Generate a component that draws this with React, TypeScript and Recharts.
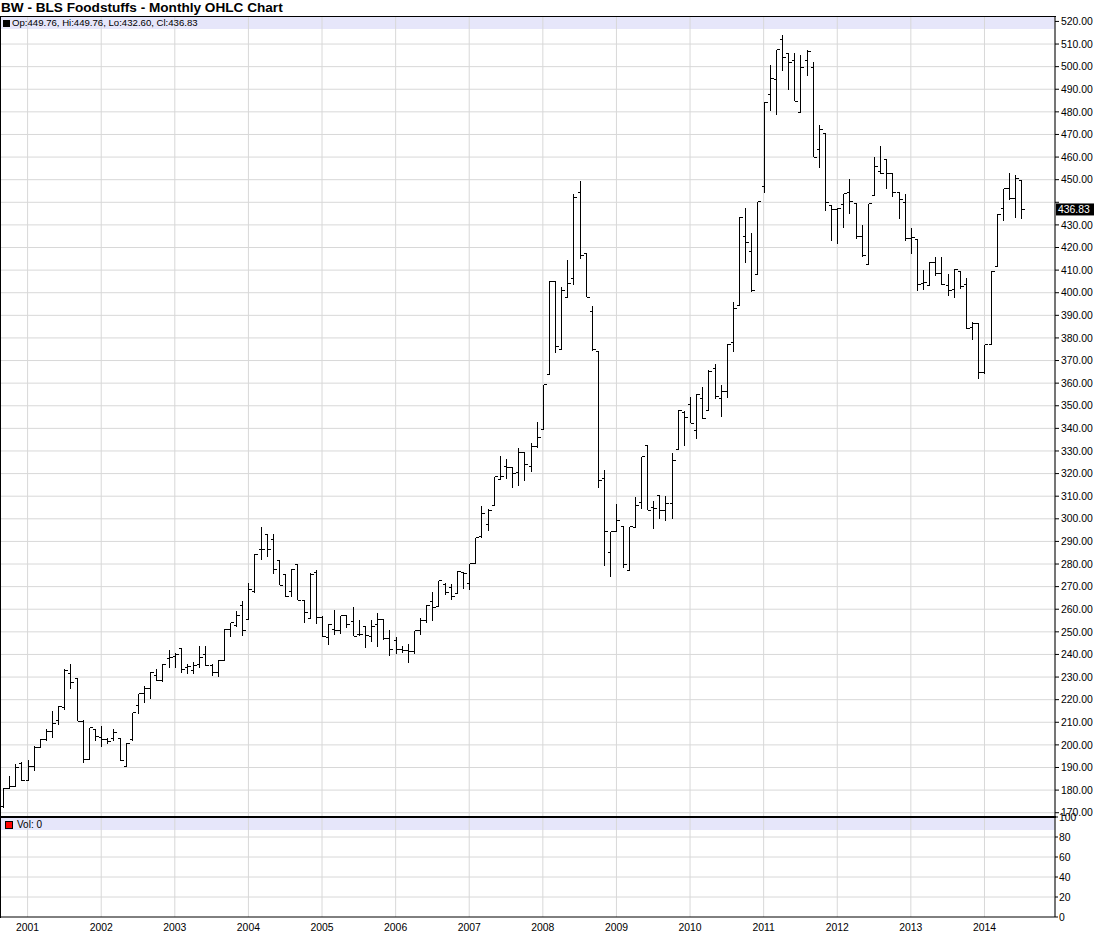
import React from 'react';
import { ComposedChart, Bar, XAxis, YAxis, CartesianGrid, ReferenceLine } from 'recharts';

// Monthly bars from Sep 2000 to Jul 2014, plus empty months to the right edge
const firstYear = 2000;
const firstMonth = 9;
const emptyMonthsAfter = 5;

const openValues = [
  172.8, 180.9, 181.7, 191.7, 184.2, 190.4, 198.7, 202.3, 205.7, 210.8, 216.4, 231.6, 229.2, 210.5, 193.5, 206.8,
  203.1, 202.3, 202.8, 202.8, 190.5, 202.2, 217.2, 222.6, 225.0, 230.8, 228.3, 238.2, 239.3, 242.7, 234.2, 233.0,
  235.6, 240.1, 235.3, 232.0, 237.4, 251.2, 252.6, 261.5, 255.6, 267.7, 286.3, 293.0, 291.0, 281.4, 275.5, 267.7,
  280.0, 263.7, 256.0, 276.3, 256.2, 247.5, 251.2, 250.4, 257.1, 254.6, 248.8, 252.2, 248.0, 253.1, 255.6, 247.2,
  246.0, 242.3, 241.8, 241.5, 250.4, 255.0, 263.6, 261.1, 271.0, 269.5, 266.8, 276.1, 271.4, 280.1, 292.0, 297.3,
  305.9, 317.5, 323.0, 322.7, 320.5, 329.3, 323.0, 331.8, 339.7, 363.7, 405.1, 375.1, 397.7, 406.1, 444.2, 417.2,
  391.8, 373.9, 317.9, 285.3, 294.3, 296.4, 277.2, 296.1, 307.2, 332.3, 305.2, 310.1, 303.8, 306.7, 330.8, 347.0,
  350.6, 339.1, 353.1, 348.0, 366.4, 353.1, 356.1, 378.2, 394.3, 424.8, 418.4, 408.1, 446.9, 487.5, 494.2, 512.2,
  506.0, 502.6, 479.9, 502.6, 499.8, 463.2, 470.6, 438.5, 436.6, 439.0, 444.4, 439.6, 424.8, 412.7, 443.0, 453.6,
  458.9, 452.6, 444.4, 440.0, 423.8, 423.5, 404.1, 403.1, 413.4, 408.3, 403.2, 401.4, 409.4, 403.6, 384.7, 386.5,
  364.5, 377.3, 411.6, 437.4, 446.0, 441.6, 449.76,
];
const highValues = [
  180.9, 186.4, 191.5, 192.5, 193.2, 199.4, 202.6, 207.2, 214.9, 217.1, 233.4, 235.6, 229.2, 210.9, 207.5, 206.8,
  208.3, 203.1, 207.2, 203.1, 200.9, 214.2, 222.6, 226.0, 232.2, 233.4, 235.6, 241.8, 240.8, 243.0, 235.6, 236.8,
  243.8, 243.8, 235.6, 237.4, 251.2, 254.1, 259.3, 263.7, 271.4, 284.4, 296.2, 293.0, 293.2, 281.4, 275.8, 277.7,
  280.0, 263.7, 276.0, 277.3, 257.1, 253.4, 259.6, 257.1, 257.1, 260.8, 255.3, 252.2, 255.3, 258.3, 255.6, 250.7,
  247.5, 243.8, 244.5, 250.4, 256.0, 261.8, 267.7, 272.7, 271.7, 271.3, 276.9, 276.6, 280.1, 291.6, 305.7, 304.2,
  318.5, 327.8, 326.4, 323.0, 331.1, 329.3, 333.7, 343.0, 359.3, 405.1, 405.1, 402.4, 414.3, 443.8, 449.3, 417.2,
  394.3, 373.9, 321.5, 294.3, 306.4, 296.4, 296.4, 309.7, 327.4, 332.3, 307.9, 310.1, 310.1, 329.3, 348.1, 347.8,
  353.9, 355.1, 358.3, 366.0, 368.3, 359.0, 377.2, 395.7, 433.3, 437.3, 426.5, 440.3, 484.2, 500.8, 507.5, 514.1,
  506.0, 506.0, 505.3, 507.5, 502.0, 474.3, 470.6, 438.5, 437.5, 443.7, 450.4, 439.6, 430.0, 439.3, 460.0, 465.1,
  458.9, 452.6, 444.7, 443.7, 428.5, 423.5, 410.0, 413.4, 415.6, 415.7, 408.3, 410.3, 409.4, 406.6, 386.9, 386.5,
  377.0, 409.4, 434.9, 446.0, 453.1, 451.9, 449.76,
];
const lowValues = [
  172.1, 180.9, 181.5, 183.9, 184.2, 188.6, 198.4, 201.6, 203.1, 209.0, 215.6, 224.5, 210.5, 192.0, 193.5, 201.6,
  199.0, 200.4, 201.6, 193.0, 190.5, 201.9, 213.8, 218.7, 220.4, 228.3, 228.0, 234.2, 234.2, 231.9, 231.5, 231.5,
  234.2, 234.9, 230.5, 230.0, 237.4, 247.5, 252.2, 248.2, 255.6, 267.4, 281.7, 282.9, 275.5, 270.6, 265.5, 265.5,
  264.0, 253.8, 256.0, 253.4, 247.5, 244.0, 248.5, 249.0, 251.9, 248.0, 248.0, 242.9, 245.7, 243.5, 246.5, 239.3,
  240.1, 240.8, 236.4, 240.0, 248.5, 254.0, 255.0, 260.9, 266.5, 264.3, 266.8, 268.8, 268.3, 280.1, 291.3, 294.6,
  305.9, 317.5, 317.5, 313.8, 314.6, 316.5, 320.5, 331.3, 339.7, 363.7, 373.2, 375.1, 397.7, 403.2, 415.0, 398.0,
  374.4, 313.8, 279.1, 274.2, 294.3, 278.4, 277.2, 295.8, 304.2, 303.8, 295.3, 300.1, 299.0, 300.1, 330.8, 332.4,
  342.3, 335.4, 344.3, 347.7, 352.8, 345.0, 353.6, 373.8, 394.3, 413.0, 400.1, 408.1, 444.0, 480.2, 478.7, 497.9,
  489.5, 484.6, 479.9, 495.7, 459.9, 455.1, 436.3, 422.7, 421.5, 428.5, 434.8, 423.8, 415.9, 412.7, 442.7, 452.3,
  445.9, 442.5, 432.6, 423.0, 417.2, 400.9, 401.2, 403.1, 407.5, 403.2, 398.7, 397.7, 401.7, 384.0, 379.1, 361.8,
  364.0, 377.3, 411.6, 431.7, 440.8, 433.2, 432.60,
];
const closeValues = [
  180.9, 181.7, 190.0, 184.2, 190.4, 198.7, 202.3, 205.7, 209.3, 216.8, 233.0, 227.6, 210.5, 193.5, 207.5, 203.8,
  202.3, 201.3, 205.5, 193.0, 200.6, 214.2, 222.6, 225.0, 232.2, 228.3, 235.6, 238.6, 240.1, 233.4, 234.6, 235.3,
  238.6, 234.9, 232.0, 237.4, 251.2, 254.1, 257.1, 250.4, 268.9, 284.4, 286.6, 286.6, 277.7, 270.6, 265.5, 277.7,
  264.0, 258.6, 275.5, 256.2, 247.8, 253.4, 250.4, 257.1, 253.1, 248.0, 248.8, 248.2, 252.2, 255.6, 247.2, 242.3,
  242.0, 241.8, 241.5, 250.4, 255.0, 261.8, 260.6, 272.7, 267.3, 265.8, 276.9, 275.7, 280.1, 291.6, 302.4, 303.8,
  318.5, 318.5, 322.7, 320.0, 329.3, 324.1, 331.8, 335.9, 359.3, 405.1, 376.1, 401.0, 403.9, 442.3, 416.5, 398.0,
  374.7, 317.1, 294.3, 294.3, 299.3, 279.8, 296.4, 305.7, 327.4, 303.8, 304.6, 303.5, 306.7, 325.6, 347.8, 344.7,
  342.3, 355.1, 344.3, 365.0, 354.2, 356.1, 377.2, 393.0, 433.3, 422.3, 401.1, 440.3, 484.2, 494.9, 507.5, 504.2,
  502.0, 484.6, 499.4, 506.8, 459.9, 472.3, 440.0, 436.6, 437.1, 443.7, 440.3, 424.8, 416.4, 439.3, 455.8, 452.9,
  452.6, 444.4, 441.2, 423.8, 424.5, 403.5, 404.6, 413.4, 408.6, 403.5, 401.0, 410.3, 402.7, 384.0, 386.6, 364.5,
  377.0, 409.4, 434.6, 446.0, 441.6, 450.5, 436.83,
];
const volumeValues = closeValues.map(() => 0);

const yearTicks = [
  '2001-01', '2002-01', '2003-01', '2004-01', '2005-01', '2006-01', '2007-01',
  '2008-01', '2009-01', '2010-01', '2011-01', '2012-01', '2013-01', '2014-01',
];
const priceTicks = [
  170, 180, 190, 200, 210, 220, 230, 240, 250, 260, 270, 280, 290, 300, 310, 320, 330, 340,
  350, 360, 370, 380, 390, 400, 410, 420, 430, 440, 450, 460, 470, 480, 490, 500, 510, 520,
];
const priceGridValues = priceTicks.filter((v) => v < 520);
const volumeTicks = [0, 20, 40, 60, 80, 100];
const volumeGridValues = [20, 40, 60, 80];

const barCount = closeValues.length;
const data = Array.from({ length: barCount + emptyMonthsAfter }, (_, i) => {
  const m0 = firstMonth - 1 + i;
  const year = firstYear + Math.floor(m0 / 12);
  const month = (m0 % 12) + 1;
  const date = `${year}-${month < 10 ? '0' : ''}${month}`;
  if (i >= barCount) return { date, range: null, vol: null };
  return {
    date,
    o: openValues[i],
    h: highValues[i],
    l: lowValues[i],
    c: closeValues[i],
    range: [lowValues[i], highValues[i]],
    vol: volumeValues[i],
  };
});

const last = data[barCount - 1] as any;
const fmt = (v: number) => v.toFixed(2);

const OhlcShape = (props: any) => {
  const { x, y, width, height, payload } = props;
  if (!payload || payload.range == null || !isFinite(y) || !isFinite(height)) return null;
  const { o, h, l, c } = payload;
  const top = Math.min(y, y + height);
  const bottom = Math.max(y, y + height);
  const k = h > l ? (bottom - top) / (h - l) : 0;
  const yo = top + (h - o) * k;
  const yc = top + (h - c) * k;
  const cx = Math.round(x + width / 2) + 0.5;
  return (
    <g stroke="#000" strokeWidth={1} shapeRendering="crispEdges" fill="none">
      <line x1={cx} x2={cx} y1={top} y2={bottom} />
      <line x1={cx - 3} x2={cx} y1={yo} y2={yo} />
      <line x1={cx} x2={cx + 3} y1={yc} y2={yc} />
    </g>
  );
};

const PriceTick = (props: any) => {
  const { x, y, payload } = props;
  if (Math.abs(payload.value - last.c) < 5) return <g />;
  return (
    <text x={x} y={y} dy="0.355em" textAnchor="start" fontSize={10.4} fill="#000">
      {fmt(payload.value)}
    </text>
  );
};

const CurrentPriceLabel = (props: any) => {
  const vb = props.viewBox || {};
  const x = (vb.x || 0) + (vb.width || 0);
  const y = vb.y || 0;
  return (
    <g>
      <rect x={x + 1} y={y - 6} width={38} height={12} fill="#000" />
      <text x={x + 3} y={y} dy="0.355em" fill="#fff" fontSize={10.4} textAnchor="start">
        {fmt(last.c)}
      </text>
    </g>
  );
};

const gridStroke = '#d8d8d8';
const band = '#e6e6fa';

export default function App() {
  return (
    <div
      style={{
        position: 'absolute',
        left: 0,
        top: 0,
        width: 1100,
        height: 936,
        background: '#fff',
        fontFamily: '"Liberation Sans", Arial, sans-serif',
        overflow: 'hidden',
      }}
    >
      <div
        style={{
          position: 'absolute',
          left: 1,
          top: 0,
          fontSize: 13.6,
          lineHeight: '16px',
          fontWeight: 'bold',
          color: '#000',
          whiteSpace: 'nowrap',
        }}
      >
        BW - BLS Foodstuffs - Monthly OHLC Chart
      </div>

      <div style={{ position: 'absolute', left: 0, top: 17, width: 1055, height: 12, background: band }} />
      <div style={{ position: 'absolute', left: 0, top: 818, width: 1055, height: 12, background: band }} />

      <div style={{ position: 'absolute', left: 0, top: 0 }}>
        <ComposedChart
          width={1100}
          height={817}
          data={data}
          margin={{ top: 16, right: 0, bottom: 0, left: 0 }}
          barCategoryGap={0}
          barGap={0}
        >
          <CartesianGrid stroke={gridStroke} horizontalValues={priceGridValues} />
          <XAxis dataKey="date" hide ticks={yearTicks} interval={0} />
          <YAxis
            orientation="right"
            type="number"
            width={45}
            domain={[168.1, 522.4]}
            allowDataOverflow
            ticks={priceTicks}
            interval={0}
            tickSize={4}
            tickMargin={2}
            tick={<PriceTick />}
            tickLine={{ stroke: '#000' }}
            axisLine={{ stroke: '#000' }}
          />
          <Bar dataKey="range" shape={OhlcShape} isAnimationActive={false} activeBar={false} />
          <ReferenceLine y={last.c} stroke="none" label={(p: any) => <CurrentPriceLabel {...p} />} />
        </ComposedChart>
      </div>

      <div style={{ position: 'absolute', left: 0, top: 805 }}>
        <ComposedChart
          width={1100}
          height={131}
          data={data}
          margin={{ top: 12, right: 0, bottom: 0, left: 0 }}
          barCategoryGap={0}
          barGap={0}
        >
          <CartesianGrid stroke={gridStroke} horizontalValues={volumeGridValues} />
          <XAxis
            dataKey="date"
            ticks={yearTicks}
            interval={0}
            height={19}
            tickFormatter={(d: string) => d.slice(0, 4)}
            tickLine={false}
            tickSize={4}
            tickMargin={3}
            tick={{ fontSize: 10.4, fill: '#000' }}
            axisLine={{ stroke: '#000' }}
          />
          <YAxis
            orientation="right"
            type="number"
            width={45}
            domain={[0, 100]}
            ticks={volumeTicks}
            interval={0}
            tickSize={3}
            tickMargin={1}
            tick={{ fontSize: 10.4, fill: '#000' }}
            tickLine={{ stroke: '#000' }}
            axisLine={{ stroke: '#000' }}
          />
          <Bar dataKey="vol" fill="#ff0000" isAnimationActive={false} activeBar={false} />
        </ComposedChart>
      </div>

      {/* panel frame */}
      <div style={{ position: 'absolute', left: 0, top: 16, width: 1056, height: 1, background: '#000' }} />
      <div style={{ position: 'absolute', left: 0, top: 16, width: 1, height: 902, background: '#000' }} />
      <div style={{ position: 'absolute', left: 0, top: 816, width: 1056, height: 2, background: '#000' }} />

      {/* legends */}
      <div
        style={{
          position: 'absolute',
          left: 3,
          top: 17,
          height: 12,
          fontSize: 9.6,
          lineHeight: '12px',
          color: '#000',
          whiteSpace: 'nowrap',
          display: 'flex',
          alignItems: 'center',
        }}
      >
        <span style={{ display: 'inline-block', width: 7, height: 7, background: '#000', marginRight: 2 }} />
        <span>{`Op:${fmt(last.o)}, Hi:${fmt(last.h)}, Lo:${fmt(last.l)}, Cl:${fmt(last.c)}`}</span>
      </div>
      <div
        style={{
          position: 'absolute',
          left: 5,
          top: 819,
          height: 12,
          fontSize: 10,
          lineHeight: '12px',
          color: '#000',
          whiteSpace: 'nowrap',
          display: 'flex',
          alignItems: 'center',
        }}
      >
        <span
          style={{
            display: 'inline-block',
            width: 6,
            height: 6,
            background: '#ff0000',
            border: '1px solid #000',
            marginRight: 4,
          }}
        />
        <span>{`Vol: ${volumeValues[volumeValues.length - 1]}`}</span>
      </div>
    </div>
  );
}
